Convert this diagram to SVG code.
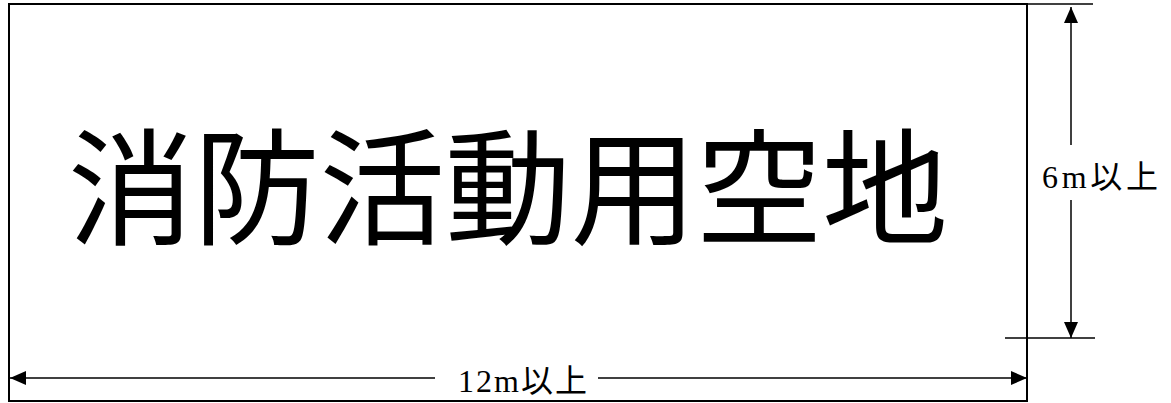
<svg xmlns="http://www.w3.org/2000/svg" width="1171" height="403" viewBox="0 0 1171 403">
<style>
.ln{stroke:#000;stroke-width:1.5;fill:none}
.lbl{font-family:"Liberation Serif","Noto Sans CJK JP",serif;font-size:32px;fill:#000}
.big{font-family:"Noto Sans CJK JP","Noto Sans CJK SC",sans-serif;font-size:126px;font-weight:400;fill:#000}
</style>
<defs>
<marker id="ah" viewBox="0 0 16 14" refX="16" refY="7" markerWidth="16" markerHeight="14" markerUnits="userSpaceOnUse" orient="auto-start-reverse">
<path d="M0,0 L16,7 L0,14 Z" fill="#000"/>
</marker>
</defs>
<g id="area">
<rect x="9" y="4" width="1018" height="397" fill="#fff" stroke="#000" stroke-width="2"/>
<text class="big" x="68" y="235" textLength="880" lengthAdjust="spacing">消防活動用空地</text>
</g>
<g id="connectors">
<line class="ln" x1="1005" y1="4" x2="1093" y2="4"/>
<line class="ln" x1="1005" y1="338" x2="1095" y2="338"/>
<line class="ln" x1="1071" y1="145" x2="1071" y2="7" marker-end="url(#ah)"/>
<line class="ln" x1="1071" y1="200" x2="1071" y2="338" marker-end="url(#ah)"/>
<line class="ln" x1="435" y1="378" x2="10" y2="378" marker-end="url(#ah)"/>
<line class="ln" x1="598" y1="378" x2="1027" y2="378" marker-end="url(#ah)"/>
</g>
<g id="width-label">
<text class="lbl" x="458" y="392" textLength="129" lengthAdjust="spacing">12m以上</text>
</g>
<g id="height-label">
<text class="lbl" x="1042" y="188" textLength="116" lengthAdjust="spacing">6m以上</text>
</g>
</svg>
